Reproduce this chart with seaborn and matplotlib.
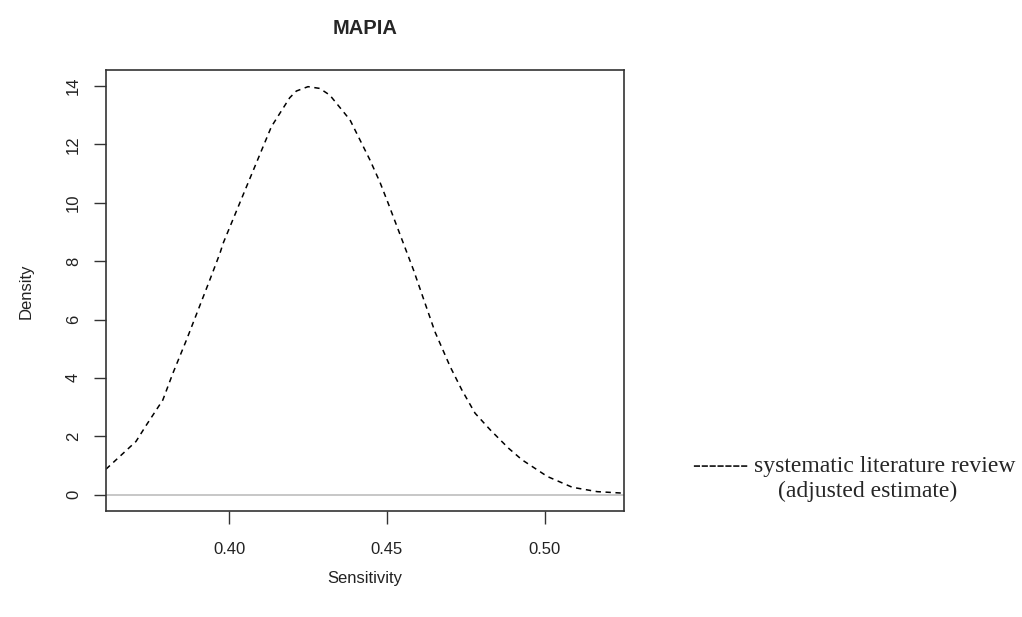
import matplotlib
matplotlib.use("Agg")
import matplotlib.pyplot as plt
import numpy as np
import seaborn as sns

# density curve (Sensitivity vs Density)
sensitivity = [0.3610, 0.3705, 0.3739, 0.3790, 0.3822, 0.3865, 0.3902, 0.3939,
               0.3971, 0.3981, 0.4055, 0.4134, 0.4192, 0.4213, 0.4250, 0.4287,
               0.4319, 0.4383, 0.4446, 0.4478, 0.4504, 0.4584, 0.4652, 0.4700,
               0.4737, 0.4779, 0.4827, 0.4885, 0.4928, 0.5008, 0.5087, 0.5166,
               0.5246]
density = [0.87, 1.82, 2.40, 3.24, 4.16, 5.30, 6.33, 7.36,
           8.27, 8.61, 10.55, 12.61, 13.60, 13.83, 13.98, 13.92,
           13.69, 12.84, 11.47, 10.70, 9.98, 7.70, 5.58, 4.39,
           3.59, 2.79, 2.22, 1.59, 1.19, 0.62, 0.25, 0.10,
           0.05]

x_ticks = [0.40, 0.45, 0.50]
y_ticks = [0, 2, 4, 6, 8, 10, 12, 14]

sns.set_style("white")
plt.rcParams['font.family'] = ['Liberation Sans', 'DejaVu Sans']

fig = plt.figure(figsize=(10.22, 6.17), dpi=100)
ax = fig.add_axes([0.1037, 0.171, 0.5066, 0.7155])

ax.axhline(0, color='#bebebe', lw=1.2, zorder=1)
sns.lineplot(x=sensitivity, y=density, ax=ax, color='black', lw=1.1,
             linestyle=(0, (3.5, 3)), zorder=2)

ax.set_xlim(0.361, 0.525)
ax.set_ylim(-0.58, 14.55)
ax.set_xticks(x_ticks)
ax.set_xticklabels([f"{v:.2f}" for v in x_ticks])
ax.set_yticks(y_ticks)
ax.set_yticklabels([str(v) for v in y_ticks], rotation=90, va='center')

for side in ['top', 'right', 'bottom', 'left']:
    ax.spines[side].set_visible(True)
    ax.spines[side].set_color('#333333')
    ax.spines[side].set_linewidth(1.2)

ax.tick_params(axis='both', direction='out', length=9, width=1, color='#333333',
               labelsize=12, labelcolor='#222222')
ax.tick_params(axis='x', pad=13, bottom=True)
ax.tick_params(axis='y', pad=9, left=True)

ax.set_xlabel("Sensitivity", fontsize=12, labelpad=10, color='#222222')
ax.set_ylabel("Density", fontsize=12, labelpad=23, color='#222222')
ax.set_title("MAPIA", fontsize=14.5, fontweight='bold', pad=26)

fig.text(0.678, 0.2447, "------- systematic literature review",
         family=['Liberation Serif', 'DejaVu Serif'], fontsize=17, va='center')
fig.text(0.7613, 0.2042, "(adjusted estimate)",
         family=['Liberation Serif', 'DejaVu Serif'], fontsize=17, va='center')

plt.savefig('out.png', dpi=100)
